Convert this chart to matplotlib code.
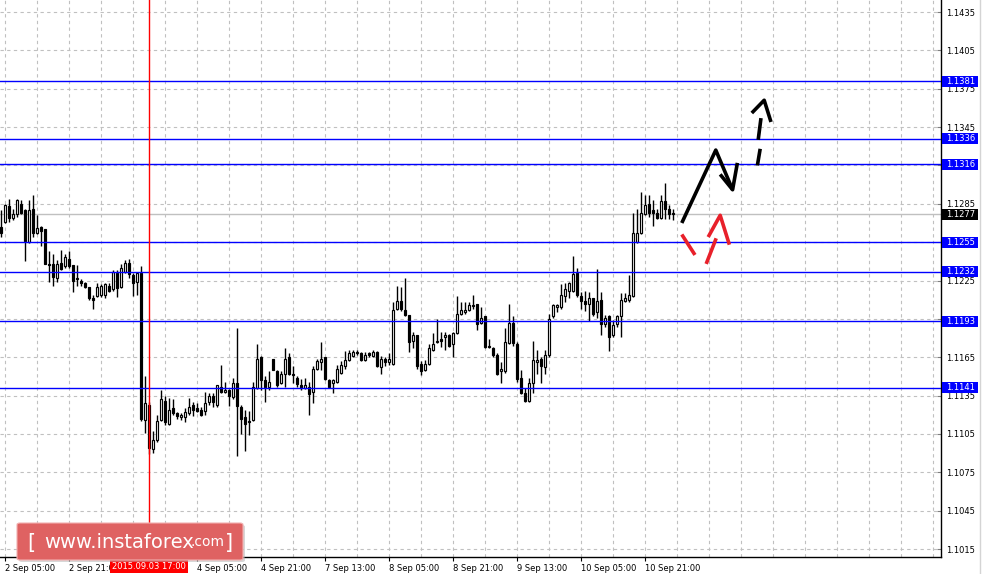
import matplotlib
matplotlib.use("Agg")
import matplotlib.pyplot as plt
import matplotlib.transforms as mtransforms
from matplotlib.patches import Rectangle, FancyBboxPatch
from matplotlib.lines import Line2D

# EURUSD H1 candles, 2 Sep 04:00 .. 11 Sep 04:00
opens = [1.1267, 1.1271, 1.1283, 1.1274, 1.1277, 1.1285, 1.1280, 1.1255, 1.1281, 1.1262,
         1.1267, 1.1265, 1.1238, 1.1238, 1.1227, 1.1239, 1.1236, 1.1242, 1.1237, 1.1227,
         1.1225, 1.1223, 1.1220, 1.1211, 1.1213, 1.1214, 1.1214, 1.1221, 1.1218, 1.1231,
         1.1220, 1.1232, 1.1239, 1.1229, 1.1224, 1.1231, 1.1116, 1.1128, 1.1093, 1.1100,
         1.1116, 1.1131, 1.1113, 1.1125, 1.1121, 1.1118, 1.1118, 1.1121, 1.1128, 1.1125,
         1.1124, 1.1123, 1.1130, 1.1135, 1.1128, 1.1142, 1.1138, 1.1139, 1.1134, 1.1145,
         1.1126, 1.1118, 1.1115, 1.1116, 1.1141, 1.1165, 1.1147, 1.1142, 1.1164, 1.1154,
         1.1145, 1.1152, 1.1165, 1.1152, 1.1149, 1.1143, 1.1141, 1.1142, 1.1138, 1.1156,
         1.1161, 1.1165, 1.1147, 1.1145, 1.1146, 1.1153, 1.1158, 1.1163, 1.1166, 1.1169,
         1.1168, 1.1163, 1.1168, 1.1166, 1.1169, 1.1157, 1.1164, 1.1161, 1.1160, 1.1203,
         1.1209, 1.1202, 1.1198, 1.1178, 1.1182, 1.1160, 1.1155, 1.1160, 1.1171, 1.1177,
         1.1179, 1.1181, 1.1182, 1.1175, 1.1184, 1.1199, 1.1200, 1.1202, 1.1206, 1.1207,
         1.1192, 1.1197, 1.1174, 1.1172, 1.1167, 1.1154, 1.1154, 1.1176, 1.1192, 1.1175,
         1.1149, 1.1137, 1.1131, 1.1145, 1.1161, 1.1164, 1.1157, 1.1167, 1.1197, 1.1204,
         1.1204, 1.1213, 1.1217, 1.1217, 1.1231, 1.1213, 1.1209, 1.1207, 1.1211, 1.1200,
         1.1210, 1.1191, 1.1197, 1.1182, 1.1191, 1.1197, 1.1209, 1.1210, 1.1213, 1.1255,
         1.1262, 1.1277, 1.1285, 1.1280, 1.1278, 1.1274, 1.1287, 1.1281, 1.1278]
highs = [1.1280, 1.1285, 1.1289, 1.1281, 1.1289, 1.1288, 1.1281, 1.1288, 1.1292, 1.1276,
         1.1268, 1.1265, 1.1248, 1.1246, 1.1241, 1.1249, 1.1246, 1.1248, 1.1237, 1.1237,
         1.1226, 1.1224, 1.1220, 1.1214, 1.1223, 1.1222, 1.1223, 1.1223, 1.1233, 1.1233,
         1.1238, 1.1241, 1.1242, 1.1231, 1.1232, 1.1236, 1.1150, 1.1130, 1.1107, 1.1120,
         1.1139, 1.1135, 1.1133, 1.1132, 1.1122, 1.1121, 1.1125, 1.1133, 1.1130, 1.1129,
         1.1126, 1.1138, 1.1137, 1.1137, 1.1143, 1.1159, 1.1146, 1.1140, 1.1149, 1.1188,
         1.1128, 1.1124, 1.1123, 1.1146, 1.1175, 1.1166, 1.1150, 1.1154, 1.1164, 1.1155,
         1.1154, 1.1172, 1.1168, 1.1158, 1.1150, 1.1148, 1.1149, 1.1146, 1.1158, 1.1164,
         1.1177, 1.1165, 1.1148, 1.1148, 1.1159, 1.1162, 1.1170, 1.1171, 1.1171, 1.1171,
         1.1169, 1.1169, 1.1169, 1.1171, 1.1170, 1.1166, 1.1165, 1.1168, 1.1208, 1.1221,
         1.1220, 1.1227, 1.1198, 1.1185, 1.1182, 1.1162, 1.1163, 1.1175, 1.1184, 1.1195,
         1.1185, 1.1185, 1.1183, 1.1185, 1.1213, 1.1208, 1.1208, 1.1208, 1.1214, 1.1207,
         1.1204, 1.1197, 1.1179, 1.1173, 1.1168, 1.1161, 1.1188, 1.1207, 1.1197, 1.1177,
         1.1155, 1.1141, 1.1149, 1.1178, 1.1171, 1.1165, 1.1171, 1.1199, 1.1207, 1.1207,
         1.1222, 1.1223, 1.1224, 1.1244, 1.1235, 1.1216, 1.1217, 1.1216, 1.1211, 1.1234,
         1.1216, 1.1198, 1.1198, 1.1194, 1.1198, 1.1215, 1.1215, 1.1229, 1.1278, 1.1281,
         1.1294, 1.1292, 1.1292, 1.1288, 1.1281, 1.1292, 1.1301, 1.1284, 1.1281]
lows = [1.1259, 1.1270, 1.1271, 1.1272, 1.1275, 1.1277, 1.1240, 1.1254, 1.1259, 1.1261,
        1.1252, 1.1238, 1.1224, 1.1221, 1.1224, 1.1233, 1.1235, 1.1235, 1.1216, 1.1221,
        1.1221, 1.1219, 1.1210, 1.1203, 1.1212, 1.1212, 1.1211, 1.1216, 1.1217, 1.1212,
        1.1219, 1.1231, 1.1227, 1.1213, 1.1214, 1.1115, 1.1106, 1.1089, 1.1090, 1.1099,
        1.1115, 1.1112, 1.1112, 1.1120, 1.1117, 1.1116, 1.1114, 1.1120, 1.1119, 1.1122,
        1.1119, 1.1120, 1.1128, 1.1126, 1.1126, 1.1137, 1.1137, 1.1127, 1.1132, 1.1088,
        1.1105, 1.1092, 1.1104, 1.1115, 1.1140, 1.1139, 1.1130, 1.1139, 1.1155, 1.1142,
        1.1144, 1.1142, 1.1151, 1.1145, 1.1142, 1.1139, 1.1140, 1.1120, 1.1129, 1.1155,
        1.1155, 1.1147, 1.1141, 1.1137, 1.1145, 1.1152, 1.1156, 1.1162, 1.1165, 1.1167,
        1.1162, 1.1162, 1.1165, 1.1165, 1.1157, 1.1152, 1.1158, 1.1159, 1.1159, 1.1202,
        1.1201, 1.1197, 1.1169, 1.1172, 1.1156, 1.1151, 1.1154, 1.1159, 1.1170, 1.1176,
        1.1173, 1.1171, 1.1173, 1.1165, 1.1183, 1.1198, 1.1199, 1.1201, 1.1203, 1.1186,
        1.1191, 1.1172, 1.1172, 1.1165, 1.1151, 1.1145, 1.1153, 1.1175, 1.1174, 1.1146,
        1.1136, 1.1130, 1.1130, 1.1137, 1.1152, 1.1145, 1.1152, 1.1165, 1.1196, 1.1200,
        1.1203, 1.1208, 1.1211, 1.1216, 1.1212, 1.1203, 1.1201, 1.1193, 1.1197, 1.1196,
        1.1182, 1.1189, 1.1170, 1.1181, 1.1189, 1.1181, 1.1208, 1.1208, 1.1212, 1.1254,
        1.1261, 1.1276, 1.1275, 1.1268, 1.1273, 1.1273, 1.1273, 1.1273, 1.1272]
closes = [1.1262, 1.1284, 1.1274, 1.1277, 1.1288, 1.1278, 1.1256, 1.1280, 1.1262, 1.1266,
          1.1264, 1.1238, 1.1237, 1.1228, 1.1238, 1.1234, 1.1243, 1.1236, 1.1225, 1.1226,
          1.1223, 1.1220, 1.1211, 1.1210, 1.1220, 1.1221, 1.1222, 1.1217, 1.1232, 1.1219,
          1.1235, 1.1239, 1.1230, 1.1223, 1.1231, 1.1117, 1.1129, 1.1094, 1.1100, 1.1115,
          1.1132, 1.1114, 1.1124, 1.1121, 1.1119, 1.1120, 1.1122, 1.1126, 1.1124, 1.1123,
          1.1120, 1.1129, 1.1135, 1.1130, 1.1143, 1.1138, 1.1139, 1.1135, 1.1145, 1.1127,
          1.1117, 1.1113, 1.1114, 1.1142, 1.1164, 1.1147, 1.1142, 1.1146, 1.1155, 1.1143,
          1.1152, 1.1164, 1.1152, 1.1151, 1.1144, 1.1141, 1.1143, 1.1136, 1.1156, 1.1162,
          1.1164, 1.1148, 1.1142, 1.1147, 1.1156, 1.1159, 1.1163, 1.1168, 1.1169, 1.1168,
          1.1163, 1.1167, 1.1167, 1.1169, 1.1158, 1.1164, 1.1161, 1.1164, 1.1202, 1.1209,
          1.1203, 1.1198, 1.1177, 1.1182, 1.1158, 1.1154, 1.1160, 1.1172, 1.1175, 1.1178,
          1.1178, 1.1182, 1.1174, 1.1184, 1.1199, 1.1202, 1.1202, 1.1206, 1.1205, 1.1191,
          1.1196, 1.1173, 1.1173, 1.1167, 1.1152, 1.1156, 1.1177, 1.1192, 1.1176, 1.1148,
          1.1137, 1.1131, 1.1145, 1.1163, 1.1163, 1.1158, 1.1167, 1.1195, 1.1206, 1.1206,
          1.1214, 1.1218, 1.1223, 1.1230, 1.1214, 1.1209, 1.1207, 1.1211, 1.1199, 1.1209,
          1.1191, 1.1196, 1.1181, 1.1190, 1.1197, 1.1210, 1.1211, 1.1214, 1.1262, 1.1262,
          1.1278, 1.1284, 1.1278, 1.1278, 1.1274, 1.1287, 1.1281, 1.1277, 1.1277]

# time scale labels (3 Sep 13:00 sits under the crosshair label, so it is not shown)
time_labels = ["2 Sep 05:00", "2 Sep 21:00", "", "4 Sep 05:00", "4 Sep 21:00",
               "7 Sep 13:00", "8 Sep 05:00", "8 Sep 21:00", "9 Sep 13:00", "10 Sep 05:00",
               "10 Sep 21:00"]
label_bars = [1, 17, 33, 49, 65, 81, 97, 113, 129, 145, 161]
price_ticks = [1.1015, 1.1045, 1.1075, 1.1105, 1.1135, 1.1165, 1.1195, 1.1225, 1.1255,
               1.1285, 1.1315, 1.1345, 1.1375, 1.1405, 1.1435]
hidden_ticks = [1.1195, 1.1255, 1.1315]  # covered by level boxes on the scale
levels = [1.1381, 1.1336, 1.1316, 1.1255, 1.1232, 1.1193, 1.1141]
last_price = 1.1277
cursor_bar = 37
cursor_label = "2015.09.03 17:00"

# forecast sketch, (bar, price) strokes
black_solid = [[(170.1, 1.1270), (178.6, 1.1327), (182.8, 1.1296)],
               [(179.7, 1.1308), (182.8, 1.1296), (184.0, 1.1317)]]
black_dashed = [[(189.0, 1.1315), (189.7, 1.1328)],
                [(189.2, 1.1335), (189.9, 1.1352)],
                [(187.6, 1.1356), (190.7, 1.1366), (192.4, 1.1349)]]
red_strokes = [[(170.1, 1.1261), (173.4, 1.1245)],
               [(176.2, 1.1238), (178.7, 1.1258)],
               [(176.7, 1.1259), (179.7, 1.1276), (182.0, 1.1253)]]

W, H = 982, 574
fig = plt.figure(figsize=(W / 100, H / 100), dpi=100)
ax = fig.add_axes([0, 17 / H, 941 / W, 557 / H])
ax.set_xlim(-0.33, 234.9)
ax.set_ylim(1.100875, 1.144439)

grid_col = "#c0c0c0"
for b in range(1, 235, 8):
    ax.axvline(b, color=grid_col, lw=0.8, ls=(0, (3, 3)), zorder=0)
for p in price_ticks:
    ax.axhline(p, color=grid_col, lw=0.8, ls=(0, (3, 3)), zorder=0)

# candles
for i in range(len(opens)):
    o, h, l, c = opens[i], highs[i], lows[i], closes[i]
    ax.vlines(i, l, h, color="black", lw=1, zorder=3)
    bottom = min(o, c)
    height = max(abs(c - o), 0.00002)
    fc = "white" if c >= o else "black"
    ax.add_patch(Rectangle((i - 0.26, bottom), 0.52, height, facecolor=fc,
                           edgecolor="black", lw=0.85, zorder=4))

ax.axhline(last_price, color="#c0c0c0", lw=1, zorder=2)
for lv in levels:
    ax.axhline(lv, color="#0000ff", lw=1, zorder=5)
ax.axvline(cursor_bar, color="#ff0000", lw=1, zorder=5)

for s in black_solid:
    ax.plot([p[0] for p in s], [p[1] for p in s], color="black", lw=2.6,
            solid_capstyle="butt", zorder=6)
for s in black_dashed:
    ax.plot([p[0] for p in s], [p[1] for p in s], color="black", lw=2.6,
            solid_capstyle="butt", zorder=6)
for s in red_strokes:
    ax.plot([p[0] for p in s], [p[1] for p in s], color="#e8202a", lw=2.6,
            solid_capstyle="butt", zorder=6)

# axes frame
for side in ["top", "left"]:
    ax.spines[side].set_visible(False)
for side in ["right", "bottom"]:
    ax.spines[side].set_color("black")
    ax.spines[side].set_linewidth(1)

ax.yaxis.tick_right()
ax.set_yticks(price_ticks)
ax.set_yticklabels(["" if p in hidden_ticks else "%.4f" % p for p in price_ticks])
ax.tick_params(axis="y", direction="in", length=3, color="#808080", pad=4,
               labelsize=6)
ax.set_xticks(label_bars)
ax.set_xticklabels(time_labels)
ax.tick_params(axis="x", direction="out", length=3, color="black", pad=2,
               labelsize=6)
for t in ax.get_xticklabels():
    t.set_horizontalalignment("left")

# price boxes on the scale
trans = mtransforms.blended_transform_factory(ax.transAxes, ax.transData)
box_h = 11 / 12786
for lv in levels + [last_price]:
    col = "black" if lv == last_price else "#0000ff"
    ax.add_patch(Rectangle((942 / 941, lv - box_h / 2), 36 / 941, box_h, transform=trans,
                           facecolor=col, edgecolor="none", clip_on=False, zorder=10))
    ax.text(946 / 941, lv, "%.4f" % lv, transform=trans, color="white", fontsize=6,
            va="center", ha="left", clip_on=False, zorder=11)

# crosshair time label
transx = mtransforms.blended_transform_factory(ax.transData, ax.transAxes)
ax.text(cursor_bar, -9.5 / 557, cursor_label, transform=transx, color="white",
        fontsize=6, ha="center", va="center", clip_on=False, zorder=11,
        bbox=dict(boxstyle="square,pad=0.25", fc="#ff0000", ec="none"))

# window border on the right
fig.add_artist(Line2D([980 / W, 980 / W], [0, 1], color="#d4d4d4", lw=1))

# watermark
fig.add_artist(FancyBboxPatch((19 / W, (H - 562) / H), 226 / W, 37 / H,
                              boxstyle="round,pad=0,rounding_size=0.003",
                              transform=fig.transFigure, facecolor="#b0b0b0",
                              edgecolor="none", alpha=0.5, zorder=20))
fig.add_artist(FancyBboxPatch((17 / W, (H - 560) / H), 226 / W, 37 / H,
                              boxstyle="round,pad=0,rounding_size=0.003",
                              transform=fig.transFigure, facecolor="#df6262",
                              edgecolor="#f2b0b0", lw=0.8, zorder=21))
yc = 1 - 543 / H
fig.text(31 / W, yc, "[", color="white", fontsize=15, ha="center", va="center", zorder=22)
fig.text(44 / W, yc, "www.instaforex", color="white", fontsize=14, ha="left",
         va="center", zorder=22)
fig.text(191 / W, yc + 1 / H, ".com", color="white", fontsize=10, ha="left",
         va="center", zorder=22)
fig.text(229 / W, yc, "]", color="white", fontsize=15, ha="center", va="center", zorder=22)

fig.savefig("out.png", dpi=100)
